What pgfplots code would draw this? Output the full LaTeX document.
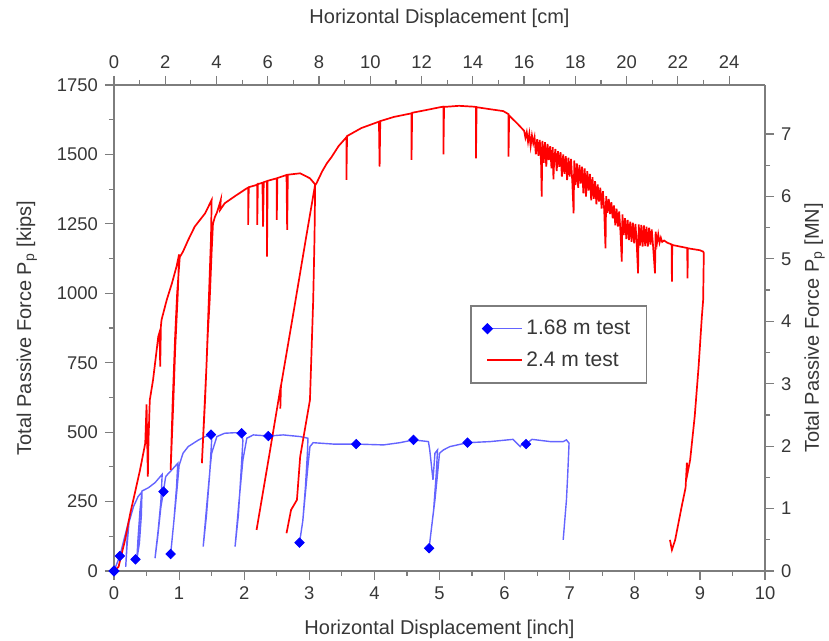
\documentclass[border=0pt]{standalone}
\usepackage{fontspec}
\setmainfont{Liberation Sans}
\usepackage{pgfplots}
\pgfplotsset{compat=1.18}
\definecolor{axgray}{RGB}{125,125,125}
\definecolor{txtgray}{RGB}{55,55,55}
\definecolor{lblue}{RGB}{100,100,255}
\begin{document}
\begin{tikzpicture}
\pgfplotsset{every axis/.append style={
  scale only axis, width=325.5pt, height=243pt,
  tick align=outside, major tick length=4.5pt, minor tick length=2.5pt,
  axis line style={axgray, line width=0.8pt},
  every tick/.style={axgray, line width=0.6pt},
  tick label style={font=\fontsize{9.2}{10}\selectfont, text=txtgray},
  label style={font=\fontsize{10}{12}\selectfont, text=txtgray},
  /pgf/number format/assume math mode=true,
  /pgf/number format/1000 sep={},
}}
\begin{axis}[name=ax,
  xmin=0, xmax=10, ymin=0, ymax=1750,
  axis x line*=bottom, axis y line*=left,
  xtick={0,1,...,10}, minor x tick num=1,
  ytick={0,250,...,1750}, minor y tick num=1,
  xlabel={Horizontal Displacement [inch]},
  ylabel={Total Passive Force P\textsubscript{p} [kips]},
  xlabel style={at={(axis description cs:0.5,-0.121)}, anchor=center},
  ylabel style={at={(axis description cs:-0.134,0.5)}, anchor=center},
  legend style={at={(0.547,0.547)}, anchor=north west, draw=axgray, line width=0.7pt,
    font=\fontsize{10.5}{12}\selectfont, text=txtgray, inner xsep=6pt, inner ysep=5pt,
    row sep=3pt},
  legend cell align=left,
]
% 1.68 m test
\addplot[lblue, line width=0.7pt, mark=square*, mark indices={1},
  mark options={solid, fill=blue, draw=blue, rotate=45, mark size=1.65pt}] coordinates {
(0,0) (0.09,54) (0.15,110) (0.21,165) (0.19,60) (0.18,15) (0.20,90) (0.23,175)
(0.30,232) (0.37,268) (0.43,285) (0.42,200) (0.39,100) (0.35,40) (0.37,120)
(0.40,220) (0.43,288) (0.53,300) (0.63,318) (0.74,348) (0.72,250) (0.68,150)
(0.63,46) (0.67,120) (0.72,230) (0.76,286) (0.79,335) (0.80,342) (0.88,362)
(0.98,388) (0.96,300) (0.92,180) (0.87,60) (0.92,180) (0.97,300) (1.00,380)
(1.06,424) (1.14,448) (1.30,472) (1.40,484) (1.49,491) (1.50,470) (1.47,350)
(1.42,200) (1.37,88) (1.43,250) (1.48,380) (1.50,424) (1.58,484) (1.70,496)
(1.86,498) (1.96,496) (1.98,470) (1.95,350) (1.91,200) (1.86,88) (1.92,250)
(1.98,400) (2.04,478) (2.14,490) (2.37,486) (2.60,490) (2.86,484) (2.98,478)
(2.97,420) (2.94,300) (2.90,180) (2.85,102) (2.90,180) (2.93,256) (2.98,380)
(3.01,448) (3.06,462) (3.37,457) (3.72,457) (4.14,454) (4.39,462) (4.60,472)
(4.83,466) (4.85,436) (4.90,328) (4.93,424) (4.97,436) (4.95,350) (4.91,220)
(4.84,82) (4.89,180) (4.93,256) (4.97,350) (5.00,424) (5.06,436) (5.16,448)
(5.43,462) (5.78,466) (6.13,474) (6.19,460) (6.24,448) (6.28,462) (6.33,457)
(6.42,474) (6.70,466) (6.90,466) (6.95,472) (6.99,460) (6.97,350) (6.95,256)
(6.90,112)
};
\addlegendentry{1.68 m test}
% 2.4 m test
\addplot[red, line width=0.85pt] coordinates {
(0,0) (0.07,15) (0.17,112) (0.25,208) (0.32,280) (0.40,364) (0.48,460) (0.50,600)
(0.52,340) (0.53,472) (0.55,616) (0.60,688) (0.68,844) (0.70,860) (0.71,736)
(0.72,880) (0.73,904) (0.81,976) (0.89,1036) (0.96,1096) (1.00,1140) (0.98,1000)
(0.94,800) (0.91,600) (0.87,364) (0.90,600) (0.94,850) (0.97,1000) (1.01,1130)
(1.06,1150) (1.14,1192) (1.24,1240) (1.40,1288) (1.50,1336) (1.49,1200)
(1.46,1000) (1.42,736) (1.35,388) (1.40,620) (1.44,850) (1.47,976) (1.50,1150)
(1.52,1250) (1.55,1275) (1.58,1290) (1.62,1320) (1.64,1336) (1.63,1300)
(1.70,1324) (1.86,1350) (2.04,1378) (2.06,1380) (2.06,1246) (2.07,1382)
(2.19,1390) (2.20,1392) (2.20,1246) (2.21,1393) (2.28,1398) (2.29,1240)
(2.30,1400) (2.35,1404) (2.35,1132) (2.36,1405) (2.50,1414) (2.50,1264)
(2.51,1415) (2.65,1426) (2.66,1228) (2.67,1427) (2.86,1432) (3.01,1414)
(3.09,1392) (2.95,1200) (2.75,921) (2.56,660) (2.555,585) (2.565,670)
(2.40,438) (2.19,148)
};
\addlegendentry{2.4 m test}
\addplot[red, line width=0.85pt, forget plot] coordinates {
(2.65,136) (2.72,220) (2.81,256) (2.86,412) (3.01,616) (3.06,976) (3.08,1200)
(3.09,1390) (3.11,1396) (3.20,1440) (3.27,1468) (3.34,1490) (3.45,1530)
(3.57,1562) (3.57,1408) (3.58,1566) (3.80,1595) (4.07,1618) (4.08,1456)
(4.09,1620) (4.30,1635) (4.57,1648) (4.57,1480) (4.58,1650) (4.80,1660)
(5.01,1670) (5.06,1672) (5.06,1500) (5.07,1671) (5.30,1675) (5.52,1672)
(5.56,1671) (5.56,1486) (5.57,1670) (5.80,1662) (5.98,1656) (6.06,1645)
(6.06,1492) (6.07,1640) (6.20,1610)
(6.30,1585) (6.32,1560) (6.34,1580) (6.36,1545) (6.38,1575) (6.40,1530)
(6.42,1568) (6.44,1540) (6.46,1562) (6.48,1500) (6.50,1555) (6.52,1495)
(6.54,1552) (6.56,1470) (6.57,1348) (6.58,1549) (6.60,1470) (6.62,1544)
(6.64,1456) (6.66,1538) (6.68,1480) (6.70,1530) (6.72,1450) (6.74,1526)
(6.75,1410) (6.76,1470) (6.78,1520) (6.80,1440) (6.82,1512) (6.84,1455)
(6.86,1508) (6.88,1420) (6.90,1500) (6.92,1430) (6.94,1494) (6.96,1408)
(6.98,1488) (7.00,1420) (7.02,1484) (7.04,1400) (7.06,1288) (7.07,1478)
(7.09,1390) (7.11,1468) (7.13,1380) (7.15,1462) (7.17,1395) (7.19,1456)
(7.21,1360) (7.23,1450) (7.25,1348) (7.27,1440) (7.29,1370) (7.31,1430)
(7.33,1335) (7.35,1418) (7.37,1340) (7.39,1404) (7.41,1320) (7.43,1392)
(7.45,1330) (7.47,1380) (7.49,1305) (7.51,1368) (7.53,1300) (7.55,1162)
(7.56,1350) (7.58,1290) (7.60,1340) (7.62,1285) (7.64,1328) (7.66,1270)
(7.68,1316) (7.70,1245) (7.72,1305) (7.74,1240) (7.76,1295) (7.78,1220)
(7.80,1114) (7.81,1284) (7.83,1210) (7.85,1270) (7.87,1195) (7.89,1264)
(7.91,1192) (7.93,1258) (7.95,1185) (7.97,1254) (7.99,1180) (8.01,1250)
(8.03,1175) (8.05,1072) (8.06,1248) (8.08,1172) (8.10,1246) (8.12,1168)
(8.14,1244) (8.16,1170) (8.18,1240) (8.20,1168) (8.22,1236) (8.24,1175)
(8.26,1230) (8.28,1172) (8.31,1072) (8.32,1222) (8.34,1180) (8.36,1212)
(8.38,1182) (8.40,1200) (8.42,1185) (8.45,1190) (8.50,1182) (8.565,1176)
(8.57,1042) (8.575,1174) (8.70,1168) (8.805,1163) (8.81,1054) (8.815,1162)
(9.00,1155) (9.05,1150) (9.06,1145) (9.05,976) (9.03,916) (8.98,736)
(8.92,556) (8.85,400) (8.81,352) (8.80,390) (8.78,300) (8.72,232) (8.62,112)
(8.57,76) (8.54,112)
};
% markers of the 1.68 m test
\addplot[only marks, mark=square*, blue, forget plot,
  mark options={rotate=45, mark size=1.65pt}] coordinates {
(0,0) (0.09,54) (0.33,42) (0.76,286) (0.87,61) (1.49,491) (1.96,496) (2.37,486)
(2.85,102) (3.72,457) (4.60,472) (4.84,82) (5.43,462) (6.33,457)
};
\end{axis}
\begin{axis}[
  xmin=0, xmax=25.4, ymin=0, ymax=7.78439,
  axis x line*=top, axis y line*=right,
  xtick={0,2,...,24}, minor x tick num=1,
  ytick={0,1,...,7}, minor y tick num=1,
  xlabel={Horizontal Displacement [cm]},
  ylabel={Total Passive Force P\textsubscript{p} [MN]},
  xlabel style={at={(axis description cs:0.5,1.138)}, anchor=center},
  ylabel style={at={(axis description cs:1.076,0.5)}, anchor=center, rotate=0},
]
\addplot[draw=none] coordinates {(0,0)};
\end{axis}
\pgfresetboundingbox
\path ([shift={(-57pt,-35pt)}]ax.south west) rectangle ([shift={(32pt,42.5pt)}]ax.north east);
\end{tikzpicture}
\end{document}
